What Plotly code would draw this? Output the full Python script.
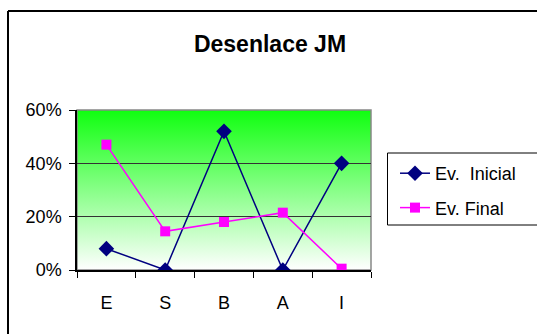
import base64
import plotly.graph_objects as go

categories = ["E", "S", "B", "A", "I"]
inicial = [0.08, 0.0, 0.52, 0.0, 0.40]
final = [0.47, 0.145, 0.18, 0.215, 0.005]
y_ticks = [0, 0.2, 0.4, 0.6]
y_tick_text = ["0%", "20%", "40%", "60%"]

W, H = 537, 334
L, R, T, B = 77, 166, 110, 64
pw, ph = W - L - R, H - T - B

svg = ('<svg xmlns="http://www.w3.org/2000/svg" width="100" height="100" preserveAspectRatio="none">'
       '<defs><linearGradient id="g" x1="0" y1="0" x2="0" y2="1">'
       '<stop offset="0" stop-color="#10ff10"/><stop offset="1" stop-color="#ffffff"/>'
       '</linearGradient></defs><rect width="100" height="100" fill="url(#g)"/></svg>')
uri = "data:image/svg+xml;base64," + base64.b64encode(svg.encode()).decode()

FONT = "Liberation Sans, Arial, sans-serif"

fig = go.Figure()
fig.add_trace(go.Scatter(
    x=categories, y=inicial, name="Ev.\u00a0\u00a0Inicial", mode="lines+markers",
    line=dict(color="#000080", width=1.5),
    marker=dict(symbol="diamond", size=12, color="#000080"),
    legendgroup="a"))
fig.add_trace(go.Scatter(
    x=categories, y=final, name="Ev. Final", mode="lines+markers",
    line=dict(color="#ff00ff", width=1.5),
    marker=dict(symbol="square", size=10, color="#ff00ff"),
    legendgroup="b"))

px = lambda x: (x - L) / pw
py = lambda y: (H - B - y) / ph

fig.update_layout(
    width=W, height=H,
    margin=dict(l=L, r=R, t=T, b=B),
    paper_bgcolor="white",
    plot_bgcolor="rgba(0,0,0,0)",
    font=dict(family=FONT, size=18, color="black"),
    title=dict(text="<b>Desenlace JM</b>", x=270 / W, xanchor="center",
               y=1 - 44 / H, yanchor="middle", yref="container",
               font=dict(family=FONT, size=23, color="black")),
    showlegend=True,
    legend=dict(x=px(395), xanchor="left", y=py(155), yanchor="top",
                borderwidth=0, bgcolor="rgba(0,0,0,0)",
                font=dict(family=FONT, size=18), traceorder="grouped",
                tracegroupgap=8),
    images=[dict(source=uri, xref="paper", yref="paper", x=0, y=1, sizex=1, sizey=1,
                 xanchor="left", yanchor="top", sizing="stretch", layer="below")],
    shapes=[
        dict(type="rect", xref="paper", yref="paper", x0=0, x1=1, y0=0, y1=1,
             line=dict(color="#888888", width=1.5), layer="below"),
        dict(type="rect", xref="paper", yref="paper", x0=px(387.5), x1=px(560),
             y0=py(225), y1=py(153), line=dict(color="black", width=1),
             fillcolor="rgba(0,0,0,0)", layer="above"),
        dict(type="line", xref="paper", yref="paper", x0=px(8), x1=1.7,
             y0=py(11), y1=py(11), line=dict(color="black", width=2)),
        dict(type="line", xref="paper", yref="paper", x0=px(8), x1=px(8),
             y0=-0.6, y1=py(11), line=dict(color="black", width=2)),
    ],
)
fig.update_xaxes(type="category", range=[-0.5, 4.5], showgrid=False,
                 showline=True, linecolor="black", linewidth=1.5,
                 ticks="outside", tickson="boundaries", ticklen=6, tickcolor="black",
                 tickfont=dict(family=FONT, size=18), ticklabelstandoff=16)
fig.update_yaxes(range=[0, 0.6], tickvals=y_ticks, ticktext=y_tick_text,
                 showgrid=True, gridcolor="#333333", gridwidth=1, zeroline=False,
                 showline=True, linecolor="black", linewidth=1.5,
                 ticks="outside", ticklen=6, tickcolor="black",
                 tickfont=dict(family=FONT, size=18), ticklabelstandoff=4)

fig.write_html("out.html", config={"displayModeBar": False},
               post_script="document.body.style.margin='0';")
